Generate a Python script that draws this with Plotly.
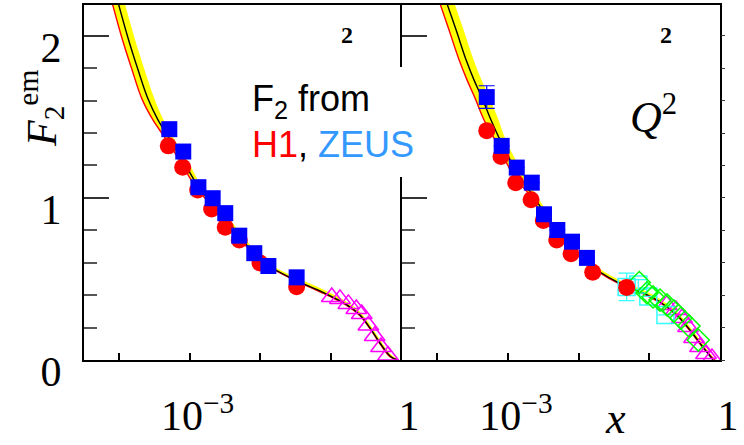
import plotly.graph_objects as go

# ---------------- data ----------------
# Left panel
L_H1_X = [4.97e-4, 7.96e-4, 1.30e-3, 2.05e-3, 3.2e-3, 5.06e-3, 9.96e-3, 3.30e-2]
L_H1_Y = [1.321, 1.189, 1.049, 0.932, 0.819, 0.741, 0.599, 0.452]
L_ZEUS_X = [5.14e-4, 8.11e-4, 1.33e-3, 2.12e-3, 3.2e-3, 5.06e-3, 8.27e-3, 1.31e-2, 3.30e-2]
L_ZEUS_Y = [1.424, 1.286, 1.066, 0.998, 0.906, 0.767, 0.659, 0.580, 0.510]
L_FT_X = [0.104, 0.136, 0.179, 0.232, 0.277, 0.344, 0.423, 0.520, 0.654]
L_FT_Y = [0.389, 0.377, 0.346, 0.315, 0.284, 0.213, 0.148, 0.080, 0.028]

L_FIT_X = [9.0e-5, 1.33e-4, 1.85e-4, 2.56e-4, 3.55e-4, 5.08e-4, 8.04e-4, 1.31e-3, 2.07e-3,
           3.28e-3, 5.18e-3, 8.46e-3, 1.34e-2, 3.34e-2, 7.08e-2, 0.171, 0.262, 0.363,
           0.503, 0.698, 0.877]
L_FIT_Y = [2.253, 1.988, 1.790, 1.611, 1.481, 1.370, 1.228, 1.074, 0.963, 0.870, 0.759,
           0.654, 0.580, 0.488, 0.426, 0.340, 0.278, 0.198, 0.105, 0.025, 0.0]
L_RED_X = [7.4e-5, 1.09e-4, 1.52e-4, 2.10e-4, 3.01e-4, 4.47e-4, 7.29e-4, 1.19e-3, 1.94e-3,
           3.07e-3, 4.85e-3, 8.19e-3, 1.29e-2, 3.23e-2, 7.08e-2, 0.171, 0.262, 0.363,
           0.503, 0.698, 0.92]
L_RED_Y = [2.253, 1.988, 1.790, 1.611, 1.481, 1.370, 1.228, 1.074, 0.963, 0.870, 0.759,
           0.654, 0.580, 0.488, 0.421, 0.335, 0.273, 0.193, 0.100, 0.020, 0.0]
L_UP_X = [1.09e-4, 1.62e-4, 2.25e-4, 3.11e-4, 4.18e-4, 5.79e-4, 9.16e-4, 1.45e-3, 2.29e-3,
          3.61e-3, 5.71e-3, 9.33e-3, 1.47e-2, 3.34e-2, 7.08e-2, 0.171, 0.262, 0.363,
          0.503, 0.698, 0.877]
L_UP_Y = [2.253, 1.988, 1.790, 1.611, 1.481, 1.370, 1.228, 1.074, 0.963, 0.870, 0.759,
          0.654, 0.580, 0.503, 0.441, 0.355, 0.293, 0.213, 0.120, 0.035, 0.005]

# Right panel
R_H1_X = [5.0e-4, 7.96e-4, 1.285e-3, 2.12e-3, 3.16e-3, 4.89e-3, 7.8e-3, 1.58e-2, 4.78e-2]
R_H1_Y = [1.415, 1.255, 1.094, 0.988, 0.861, 0.741, 0.656, 0.542, 0.448]
R_ZEUS_X = [5.0e-4, 8.14e-4, 1.33e-3, 2.17e-3, 3.23e-3, 4.99e-3, 8.05e-3, 1.31e-2]
R_ZEUS_Y = [1.622, 1.321, 1.187, 1.094, 0.899, 0.802, 0.730, 0.630]
R_ZEUS_ERR = [0.07, 0, 0, 0, 0, 0, 0, 0]
R_CYAN_X = [0.0478, 0.0698, 0.0967, 0.169]
R_CYAN_Y = [0.451, 0.466, 0.392, 0.278]
R_CYAN_ERR = [0.085, 0.03, 0.0, 0.0]
R_GREEN_X = [0.0721, 0.0927, 0.1127, 0.1416, 0.178, 0.2234, 0.2806, 0.364, 0.493]
R_GREEN_Y = [0.478, 0.414, 0.389, 0.370, 0.340, 0.302, 0.259, 0.210, 0.123]
R_FT_X = [0.176, 0.238, 0.290, 0.353, 0.429, 0.521, 0.634, 0.770]
R_FT_Y = [0.340, 0.309, 0.259, 0.204, 0.136, 0.080, 0.037, 0.012]

R_FIT_X = [1.24e-4, 1.84e-4, 2.55e-4, 3.30e-4, 4.29e-4, 5.75e-4, 7.71e-4, 1.07e-3, 1.48e-3,
           2.12e-3, 3.13e-3, 4.93e-3, 7.79e-3, 1.27e-2, 2.00e-2, 3.49e-2, 8.13e-2, 0.142,
           0.246, 0.376, 0.574, 0.796]
R_FIT_Y = [2.253, 2.037, 1.852, 1.728, 1.617, 1.481, 1.358, 1.235, 1.123, 1.031, 0.920,
           0.778, 0.691, 0.605, 0.543, 0.482, 0.414, 0.358, 0.278, 0.185, 0.080, 0.0]
R_RED_X = [9.9e-5, 1.46e-4, 2.03e-4, 2.63e-4, 3.41e-4, 4.58e-4, 6.55e-4, 9.07e-4, 1.26e-3,
           1.92e-3, 2.84e-3, 4.62e-3, 7.54e-3, 1.27e-2, 2.00e-2, 3.49e-2, 8.13e-2, 0.142,
           0.246, 0.376, 0.574, 0.85]
R_RED_Y = [2.253, 2.037, 1.852, 1.728, 1.617, 1.481, 1.358, 1.235, 1.123, 1.031, 0.920,
           0.778, 0.691, 0.600, 0.538, 0.477, 0.409, 0.353, 0.273, 0.180, 0.075, 0.0]
R_UP_X = [1.56e-4, 2.31e-4, 3.20e-4, 4.15e-4, 5.38e-4, 7.22e-4, 9.07e-4, 1.26e-3, 1.74e-3,
          2.33e-3, 3.45e-3, 5.27e-3, 8.32e-3, 1.27e-2, 2.00e-2, 3.49e-2, 8.13e-2, 0.142,
          0.246, 0.376, 0.574, 0.796]
R_UP_Y = [2.253, 2.037, 1.852, 1.728, 1.617, 1.481, 1.358, 1.235, 1.123, 1.031, 0.920,
          0.778, 0.691, 0.620, 0.558, 0.497, 0.429, 0.373, 0.293, 0.200, 0.095, 0.010]

X_TICKS = [1e-3, 1]
X_TICKTEXT = ["10<sup>\u22123</sup>", "1"]
X_MINOR_TICKS = [1e-4, 1e-2, 1e-1]
Y_TICKS = [0, 1, 2]
Y_TICKTEXT = ["0", "1", "2"]

# ---------------- styling ----------------
W, H = 744, 445
SERIF = "Liberation Serif, Times New Roman, serif"
SANS = "Liberation Sans, Arial, sans-serif"
YEL = "#ffff00"
MAG = "#ff00ff"
CYAN = "#33ffff"
GREEN = "#00ff00"

fig = go.Figure()


def add_band(xa, ya, lo_x, lo_y, up_x, up_y, fit_x, fit_y):
    fig.add_trace(go.Scatter(x=lo_x, y=lo_y, mode="lines", line=dict(width=0, shape="spline", color=YEL),
                             xaxis=xa, yaxis=ya, showlegend=False, hoverinfo="skip"))
    fig.add_trace(go.Scatter(x=up_x, y=up_y, mode="lines", fill="tonexty", fillcolor=YEL,
                             line=dict(width=1, shape="spline", color=YEL),
                             xaxis=xa, yaxis=ya, showlegend=False, hoverinfo="skip"))
    fig.add_trace(go.Scatter(x=lo_x, y=lo_y, mode="lines", line=dict(width=1.4, shape="spline", color="#ff0000"),
                             xaxis=xa, yaxis=ya, showlegend=False, hoverinfo="skip"))
    fig.add_trace(go.Scatter(x=fit_x, y=fit_y, mode="lines", line=dict(width=1.4, shape="spline", color="black"),
                             xaxis=xa, yaxis=ya, showlegend=False, hoverinfo="skip"))


# Left panel
add_band("x", "y", L_RED_X, L_RED_Y, L_UP_X, L_UP_Y, L_FIT_X, L_FIT_Y)
fig.add_trace(go.Scatter(x=L_FT_X, y=L_FT_Y, mode="markers", xaxis="x", yaxis="y",
                         marker=dict(symbol="triangle-up-open", size=18, color=MAG, line=dict(width=1.5, color=MAG)),
                         showlegend=False))
fig.add_trace(go.Scatter(x=L_H1_X, y=L_H1_Y, mode="markers", xaxis="x", yaxis="y",
                         marker=dict(symbol="circle", size=17, color="#ff0000", line=dict(width=0)),
                         showlegend=False))
fig.add_trace(go.Scatter(x=L_ZEUS_X, y=L_ZEUS_Y, mode="markers", xaxis="x", yaxis="y",
                         marker=dict(symbol="square", size=16, color="#0000ff", line=dict(width=0)),
                         showlegend=False))

# Right panel
add_band("x2", "y2", R_RED_X, R_RED_Y, R_UP_X, R_UP_Y, R_FIT_X, R_FIT_Y)
fig.add_trace(go.Scatter(x=R_FT_X, y=R_FT_Y, mode="markers", xaxis="x2", yaxis="y2",
                         marker=dict(symbol="triangle-up-open", size=18, color=MAG, line=dict(width=1.5, color=MAG)),
                         showlegend=False))
fig.add_trace(go.Scatter(x=R_CYAN_X, y=R_CYAN_Y, mode="markers", xaxis="x2", yaxis="y2",
                         error_y=dict(type="data", array=R_CYAN_ERR, color=CYAN, thickness=1.2, width=8),
                         marker=dict(symbol="square-open", size=17, color=CYAN, line=dict(width=1.5, color=CYAN)),
                         showlegend=False))
fig.add_trace(go.Scatter(x=R_GREEN_X, y=R_GREEN_Y, mode="markers", xaxis="x2", yaxis="y2",
                         marker=dict(symbol="diamond-open", size=17, color=GREEN, line=dict(width=1.5, color=GREEN)),
                         showlegend=False))
fig.add_trace(go.Scatter(x=R_H1_X, y=R_H1_Y, mode="markers", xaxis="x2", yaxis="y2",
                         marker=dict(symbol="circle", size=17, color="#ff0000", line=dict(width=0)),
                         showlegend=False))
fig.add_trace(go.Scatter(x=R_ZEUS_X, y=R_ZEUS_Y, mode="markers", xaxis="x2", yaxis="y2",
                         error_y=dict(type="data", array=R_ZEUS_ERR, color="#0000ff", thickness=1.2, width=8),
                         marker=dict(symbol="square", size=16, color="#0000ff", line=dict(width=0)),
                         showlegend=False))
# dummy trace so that the outer tick axis on the right is drawn
fig.add_trace(go.Scatter(x=[None], y=[None], xaxis="x2", yaxis="y3", showlegend=False, hoverinfo="skip"))

XD1 = [84 / W, 401 / W]
XD2 = [402 / W, 720 / W]
YD = [85 / H, 440 / H]
YR = [0, 2.19]

xcommon = dict(type="log", range=[-4.5, 0], showline=True, linecolor="black", linewidth=2, mirror=True,
               ticks="inside", ticklen=7, tickwidth=1.5, tickcolor="black",
               tickmode="array", tickvals=X_TICKS, ticktext=X_TICKTEXT, showgrid=False, zeroline=False,
               minor=dict(tickmode="array", tickvals=X_MINOR_TICKS, ticks="inside", ticklen=7,
                          tickwidth=1.5, tickcolor="black", showgrid=False),
               tickfont=dict(family=SERIF, size=42, color="black"),
               ticklabelshift=8, ticklabelstandoff=18, automargin=False)
ycommon = dict(range=YR, showline=True, linecolor="black", linewidth=2,
               ticks="inside", ticklen=25, tickwidth=1.5, tickcolor="#333",
               tickmode="array", tickvals=Y_TICKS, ticktext=Y_TICKTEXT, showgrid=False, zeroline=False,
               minor=dict(dtick=0.2, tick0=0, ticks="inside", ticklen=13, tickwidth=1.5, tickcolor="#555",
                          showgrid=False),
               tickfont=dict(family=SERIF, size=42, color="black"), automargin=False)

fig.update_layout(
    width=W, height=H,
    margin=dict(l=0, r=0, t=0, b=0),
    paper_bgcolor="white", plot_bgcolor="rgba(0,0,0,0)",
    xaxis=dict(domain=XD1, anchor="y", **xcommon),
    yaxis=dict(domain=YD, anchor="x", mirror=False, ticklabelshift=11, ticklabelstandoff=12, **ycommon),
    xaxis2=dict(domain=XD2, anchor="y2", **xcommon),
    yaxis2=dict(domain=YD, anchor="x2", mirror=True, showticklabels=False, **ycommon),
    yaxis3=dict(overlaying="y2", anchor="x2", side="right", range=YR, showline=False,
                ticks="outside", ticklen=4, tickwidth=1.2, tickcolor="#333", dtick=0.2, tick0=0,
                showticklabels=False, showgrid=False, zeroline=False),
    showlegend=False,
)

# white box behind the "F2 from H1, ZEUS" text
fig.add_shape(type="rect", xref="paper", yref="paper",
              x0=245 / W, x1=425 / W, y0=1 - 177 / H, y1=1 - 67 / H,
              fillcolor="white", line=dict(width=0), layer="above")

ann = [
    dict(text="<i>F</i><sub>2</sub><sup>em</sup>", x=41 / W, y=1 - 109 / H, textangle=-90,
         font=dict(family=SERIF, size=42, color="black"), xanchor="center", yanchor="middle"),
    dict(text="<b>2</b>", x=346.5 / W, y=1 - 35 / H, font=dict(family=SERIF, size=24, color="black"),
         xanchor="center", yanchor="middle"),
    dict(text="<b>2</b>", x=665.5 / W, y=1 - 35 / H, font=dict(family=SERIF, size=24, color="black"),
         xanchor="center", yanchor="middle"),
    dict(text="<i>Q</i><sup>2</sup>", x=653 / W, y=1 - 115 / H, font=dict(family=SERIF, size=44, color="black"),
         xanchor="center", yanchor="middle"),
    dict(text="<i>x</i>", x=615 / W, y=1 - 418 / H, font=dict(family=SERIF, size=44, color="black"),
         xanchor="center", yanchor="middle"),
    dict(text="F<sub>2</sub> from", x=250 / W, y=1 - 101 / H, font=dict(family=SANS, size=36, color="black"),
         xanchor="left", yanchor="middle"),
    dict(text="<span style='color:#ff0000'>H1</span>, <span style='color:#3399ff'>ZEUS</span>",
         x=250 / W, y=1 - 144 / H, font=dict(family=SANS, size=36, color="black"),
         xanchor="left", yanchor="middle"),
]
for a in ann:
    fig.add_annotation(xref="paper", yref="paper", showarrow=False, **a)

fig.write_html("out.html", config={"displayModeBar": False})
